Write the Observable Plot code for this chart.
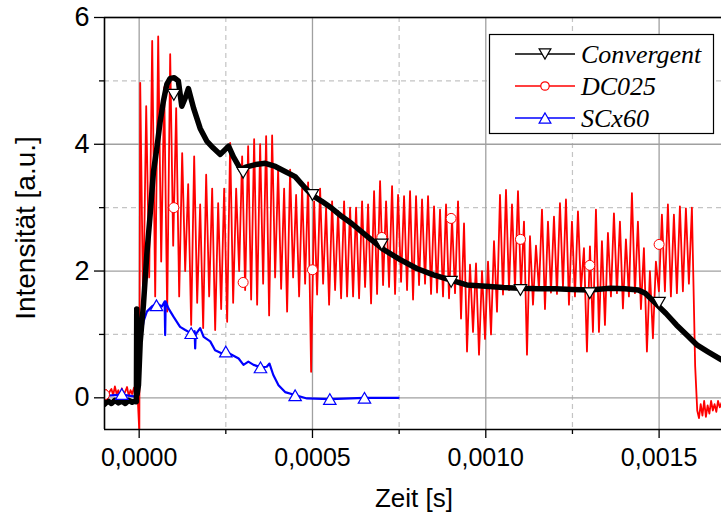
<!DOCTYPE html>
<html><head><meta charset="utf-8">
<script src="https://cdn.jsdelivr.net/npm/d3@7"></script>
<script src="https://cdn.jsdelivr.net/npm/@observablehq/plot@0.6"></script>
<style>body{margin:0;background:#fff}#chart{width:721px;height:515px}</style>
</head><body><div id="chart"></div>
<script>
// ---------- axes ----------
const xDomain = [-0.0001, 0.00168];
const yDomain = [-0.5, 6];
const xMajor = [0, 0.0005, 0.0010, 0.0015];
const xMinor = [0.00025, 0.00075, 0.00125];
const yMajor = [0, 2, 4, 6];
const yMinor = [1, 3, 5];
const xTitle = "Zeit [s]";
const yTitle = "Intensität [a.u.]";
const seriesNames = ["Convergent", "DC025", "SCx60"];

// ---------- Convergent (black) ----------
const blackT = [-0.0001,-0.00009,-0.00008,-0.00007,-0.00006,-0.00005,-0.00004,-0.00003,-0.00002,-0.00001,-0.000008,-0.000007,-0.000006,-0.000002,
  0.000003,0.0000124,0.000022,0.0000317,0.0000413,0.000051,0.0000606,0.00007,0.00008,0.0000894,0.000101,0.000113,0.000123,0.000133,0.000142,
  0.000157,0.000176,0.000195,0.000214,0.000234,0.000258,0.000272,0.000293,0.000307,0.000336,0.000364,0.000393,0.000421,0.00045,0.000479,
  0.000498,0.000527,0.000556,0.000585,0.000613,0.000657,0.000705,0.000753,0.000801,0.000849,0.000897,0.000945,0.001,0.00105,0.0011,0.00115,
  0.0012,0.00125,0.0013,0.00136,0.0014,0.00144,0.00146,0.00149,0.00152,0.00155,0.00158,0.00161,0.00164,0.00168];
const blackV = [-0.10,-0.05,-0.09,-0.04,-0.08,-0.05,-0.09,-0.04,-0.07,-0.05,-0.06,1.40,0.05,0.20,
  0.88,1.47,2.26,2.89,3.57,3.94,4.36,4.68,4.95,5.04,5.05,5.00,4.60,4.73,4.88,
  4.57,4.25,4.05,3.94,3.84,3.97,3.80,3.60,3.64,3.68,3.70,3.65,3.57,3.49,3.31,
  3.20,3.10,2.99,2.86,2.75,2.55,2.34,2.18,2.04,1.94,1.86,1.78,1.76,1.74,1.73,1.72,
  1.72,1.71,1.70,1.73,1.72,1.70,1.65,1.49,1.33,1.15,0.99,0.83,0.73,0.60];
const blackMarkT = [0.0001,0.0003,0.0005,0.0007,0.0009,0.0011,0.0013,0.0015];
const blackMarkV = [4.78,3.55,3.20,2.42,1.83,1.70,1.65,1.50];

// ---------- DC025 (red) ----------
const redPreT0 = -0.0001, redPreStep = 0.000005;
const redPre = [0.05,0.12,0.02,0.10,0.14,0.04,0.18,0.06,0.12,0.00,0.15,0.05,0.10,0.17,0.03,0.12,0.06,0.16,0.04,0.10];
const redDropT = 0.0000005, redDropV = -0.55;
const redT0 = 0.000003, redPeriod = 0.0000173;
const redPeaks = [4.97,4.6,5.63,5.7,4.9,5.42,4.57,3.86,3.37,3.81,3.05,3.52,3.3,3.07,3.3,4.02,3.3,3.81,3.97,4.08,
  4.0,4.13,4.14,3.6,3.3,3.6,3.2,3.3,3.4,3.1,3.3,3.0,3.1,2.95,3.1,3.0,3.0,3.1,3.05,3.26,
  3.42,3.1,3.34,3.2,3.18,3.26,3.18,3.13,3.18,3.02,2.97,3.05,2.83,3.1,2.75,2.1,2.12,2.0,2.15,2.47,
  3.2,3.28,3.05,3.26,2.78,2.55,2.4,2.97,2.78,2.86,3.07,3.13,2.78,2.94,2.36,2.39,2.97,2.47,2.6,2.91,
  2.78,2.5,3.23,2.78,2.36,2.0,2.15,2.89,3.05,2.89,3.02,2.99,3.0];
const redTroughs = [1.36,1.9,1.6,2.15,1.36,2.4,1.6,2.0,1.15,1.5,1.1,1.6,1.07,1.4,1.2,1.5,2.0,1.7,1.55,1.47,
  1.8,1.3,1.9,1.72,1.36,1.9,1.6,1.8,0.41,1.63,1.8,1.47,1.7,1.57,1.6,1.6,1.57,1.75,1.49,1.64,
  1.78,1.75,1.64,1.83,1.7,1.55,1.78,1.8,1.64,1.66,1.6,1.57,1.65,1.25,0.73,1.04,0.68,0.93,1.0,1.36,
  1.63,1.7,1.72,1.7,0.68,1.47,1.7,1.4,1.66,1.64,1.75,1.47,1.6,1.7,0.73,1.04,1.04,1.15,1.6,1.65,
  1.41,1.6,1.65,1.4,0.73,0.94,1.68,1.68,1.6,1.65,1.68,1.8];
const redFallT = [0.001604, 0.00161];
const redFallV = [0.5, -0.2];
const redPostT0 = 0.001615, redPostStep = 0.000005;
const redPost = [-0.32,-0.10,-0.28,-0.05,-0.30,-0.12,-0.25,-0.05,-0.20,-0.10,-0.22,-0.05,-0.15,-0.08];
const redMarkT = [-0.0001,0.0001,0.0003,0.0005,0.0007,0.0009,0.0011,0.0013,0.0015];
const redMarkV = [0.05,3.00,1.82,2.02,2.53,2.83,2.50,2.09,2.42];

// ---------- SCx60 (blue) ----------
const blueT = [-0.0001,-0.00005,-0.00001,-0.0000066,-0.000002,0.000003,0.0000124,0.0000222,0.0000366,0.000051,0.0000655,0.0000736,0.000075,
  0.0000765,0.0000845,0.000099,0.000118,0.000133,0.000149,0.00016,0.0001616,0.000163,0.000176,0.000186,0.000205,0.000219,0.000239,0.00025,
  0.000267,0.000287,0.000301,0.000315,0.00033,0.000351,0.000368,0.000376,0.000387,0.000402,0.000421,0.000452,0.000484,0.000551,0.00065,0.000748];
const blueV = [0.03,0.05,0.02,0.02,0.10,0.84,1.20,1.36,1.44,1.49,1.44,1.52,0.99,
  1.52,1.41,1.28,1.12,1.07,1.02,1.05,0.78,1.00,1.10,0.96,0.89,0.75,0.70,0.73,
  0.68,0.62,0.52,0.57,0.52,0.48,0.49,0.54,0.36,0.20,0.09,0.04,-0.01,-0.02,0.00,0.00];
const blueMarkT = [-0.00005,0.00005,0.00015,0.00025,0.00035,0.00045,0.00055,0.00065];
const blueMarkV = [0.06,1.46,1.02,0.73,0.48,0.04,-0.02,0.00];

// ---------- build tables ----------
const zip = (T, V) => T.map((t, i) => ({t, v: V[i]}));
const black = zip(blackT, blackV);
const blue = zip(blueT, blueV);
const red = [];
redPre.forEach((v, i) => red.push({t: redPreT0 + i * redPreStep, v}));
red.push({t: redDropT, v: redDropV});
redPeaks.forEach((p, i) => {
  const t = redT0 + i * redPeriod;
  red.push({t, v: p});
  if (i < redTroughs.length) red.push({t: t + redPeriod / 2, v: redTroughs[i]});
});
redFallT.forEach((t, i) => red.push({t, v: redFallV[i]}));
redPost.forEach((v, i) => red.push({t: redPostT0 + i * redPostStep, v}));

const triDown = {
  draw(ctx, size) {
    const y = Math.sqrt(size / (3 * Math.sqrt(3)));
    const s = Math.sqrt(3);
    ctx.moveTo(0, 2 * y - y / 2);
    ctx.lineTo(-s * y, -y - y / 2);
    ctx.lineTo(s * y, -y - y / 2);
    ctx.closePath();
  }
};
const triUp = {
  draw(ctx, size) {
    const y = Math.sqrt(size / (3 * Math.sqrt(3)));
    const s = Math.sqrt(3);
    ctx.moveTo(0, -2 * y + y / 2);
    ctx.lineTo(-s * y, y + y / 2);
    ctx.lineTo(s * y, y + y / 2);
    ctx.closePath();
  }
};

const fmtX = d => d.toFixed(4).replace(".", ",");
const fmtY = d => String(d);
const colors = {Convergent: "#000000", DC025: "#ff0000", SCx60: "#0000ff"};

const plot = Plot.plot({
  width: 721, height: 515,
  marginLeft: 104, marginRight: 0, marginTop: 17, marginBottom: 86,
  x: {domain: xDomain, label: null},
  y: {domain: yDomain, label: null},
  style: {fontFamily: "'Liberation Sans', Arial, sans-serif", background: "white", color: "black", overflow: "visible"},
  marks: [
    Plot.gridX(xMinor, {stroke: "#c4c4c4", strokeOpacity: 1, strokeWidth: 1.2, strokeDasharray: "5,4"}),
    Plot.gridY(yMinor, {stroke: "#c4c4c4", strokeOpacity: 1, strokeWidth: 1.2, strokeDasharray: "5,4"}),
    Plot.gridX(xMajor, {stroke: "#a0a0a0", strokeOpacity: 1, strokeWidth: 1.3}),
    Plot.gridY(yMajor, {stroke: "#a0a0a0", strokeOpacity: 1, strokeWidth: 1.3}),
    Plot.line(red, {x: "t", y: "v", stroke: colors.DC025, strokeWidth: 1.8, clip: true}),
    Plot.line(blue, {x: "t", y: "v", stroke: colors.SCx60, strokeWidth: 2.2, clip: true}),
    Plot.line(black, {x: "t", y: "v", stroke: colors.Convergent, strokeWidth: 5.5, clip: true}),
    Plot.dot(zip(redMarkT, redMarkV), {x: "t", y: "v", r: 5, fill: "white", stroke: colors.DC025, strokeWidth: 1, clip: true}),
    Plot.dot(zip(blackMarkT, blackMarkV), {x: "t", y: "v", r: 4.6, symbol: triDown, fill: "white", stroke: colors.Convergent, strokeWidth: 1.2, clip: true}),
    Plot.dot(zip(blueMarkT, blueMarkV), {x: "t", y: "v", r: 4.6, symbol: triUp, fill: "white", stroke: colors.SCx60, strokeWidth: 1.2, clip: true}),
    Plot.ruleX([xDomain[0]], {stroke: "black", strokeWidth: 1.6}),
    Plot.ruleY([yDomain[0]], {stroke: "black", strokeWidth: 1.6}),
    Plot.ruleY([yDomain[1]], {stroke: "black", strokeWidth: 1.6}),
    Plot.axisX(xMajor, {tickSize: 9, tickPadding: 10, tickFormat: fmtX, fontSize: 25, strokeWidth: 1.3, label: null}),
    Plot.axisX(xMinor, {tickSize: 5, tickFormat: () => "", strokeWidth: 1.3, label: null}),
    Plot.axisY(yMajor, {tickSize: 10, tickPadding: 5, tickFormat: fmtY, fontSize: 27, strokeWidth: 1.3, label: null}),
    Plot.axisY(yMinor, {tickSize: 5, tickFormat: () => "", strokeWidth: 1.3, label: null})
  ]
});
document.getElementById("chart").appendChild(plot);

// ---------- axis titles & legend ----------
const svg = d3.select(plot);
svg.append("text").attr("x", 414).attr("y", 507).attr("text-anchor", "middle")
  .attr("font-size", 26).attr("fill", "black").text(xTitle);
svg.append("text").attr("transform", "translate(35,228) rotate(-90)").attr("text-anchor", "middle")
  .attr("font-size", 28).attr("fill", "black").text(yTitle);

const lg = svg.append("g");
lg.append("rect").attr("x", 489.5).attr("y", 34.5).attr("width", 224).attr("height", 99)
  .attr("fill", "white").attr("stroke", "black").attr("stroke-width", 1.2);
const symFor = {Convergent: triDown, DC025: d3.symbolCircle, SCx60: triUp};
seriesNames.forEach((name, i) => {
  const cy = 54 + i * 32;
  lg.append("line").attr("x1", 515).attr("x2", 575).attr("y1", cy).attr("y2", cy)
    .attr("stroke", colors[name]).attr("stroke-width", 1.5);
  lg.append("path").attr("transform", `translate(545,${cy})`)
    .attr("d", d3.symbol(symFor[name], name === "DC025" ? 56 : 60)())
    .attr("fill", "white").attr("stroke", colors[name]).attr("stroke-width", 1.2);
  lg.append("text").attr("x", 581).attr("y", cy + 9).attr("text-anchor", "start")
    .attr("font-family", "'Liberation Serif', 'Times New Roman', serif").attr("font-style", "italic")
    .attr("font-size", 26).attr("fill", "black").text(name);
});
</script></body></html>
